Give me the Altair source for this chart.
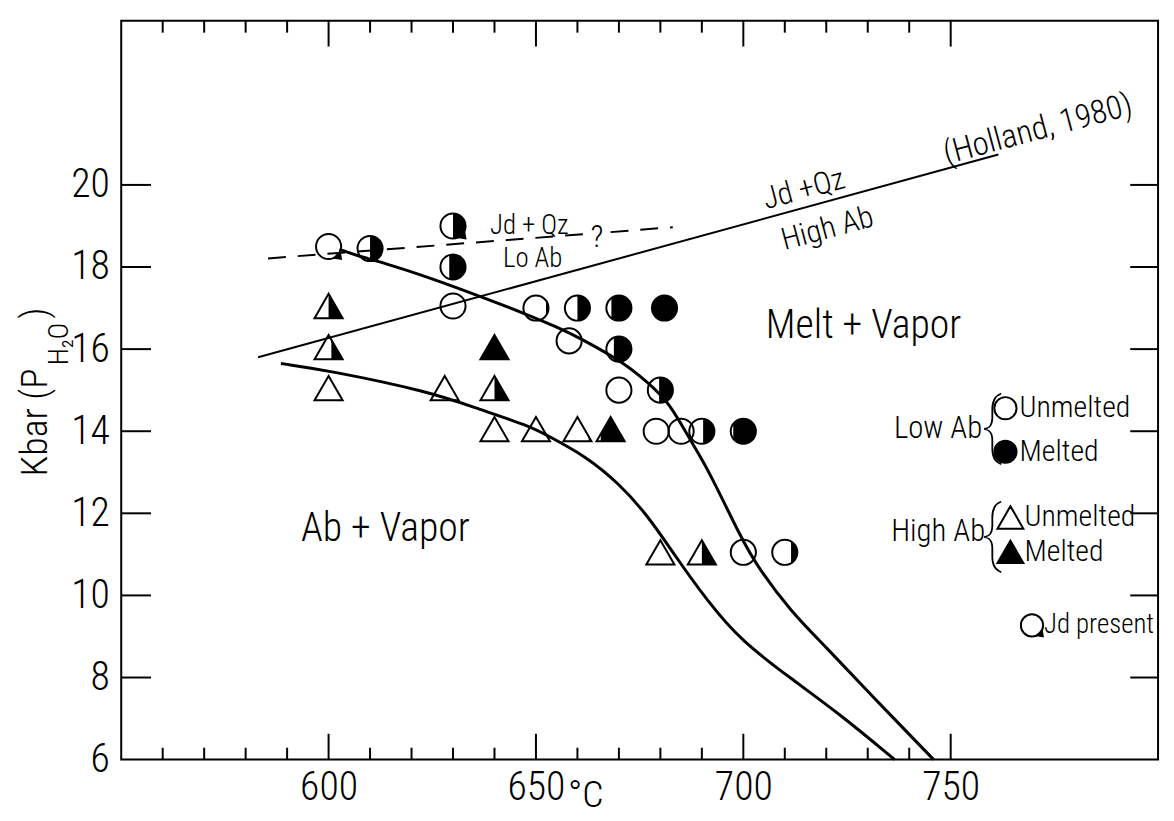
import math
import altair as alt
import pandas as pd

FONT = "Roboto Condensed, Liberation Sans Narrow, Arial Narrow, Liberation Sans, sans-serif"
WEIGHT = 300

# ---------------- data ----------------
# Low albite runs (circles): T (deg C), P (kbar), melted fraction, jadeite present
low_T = [600, 610, 630, 630, 630, 650, 660, 670, 681, 658, 670, 670, 680, 679, 685, 690, 700, 700, 710]
low_P = [18.5, 18.45, 19.0, 18.0, 17.05, 17.0, 17.0, 17.0, 17.0, 16.2, 16.0, 15.0, 15.0, 14.0, 14.0, 14.0, 14.0, 11.05, 11.05]
low_melt = [0, 0.5, 0.5, 0.65, 0, 0.1, 0.5, 0.8, 1, 0, 0.7, 0, 0.55, 0, 0, 0.45, 0.9, 0, 0.25]
low_jd = [True, False, True, False, False, False, False, False, False, False,
          False, False, False, False, False, False, False, False, False]

# High albite runs (triangles)
high_T = [600, 600, 600, 628, 640, 640, 640, 650, 660, 668, 680, 690]
high_P = [17.05, 16.05, 15.05, 15.05, 15.05, 16.05, 14.05, 14.05, 14.05, 14.05, 11.05, 11.05]
high_melt = [0.5, 0.4, 0, 0, 0.5, 1, 0, 0, 0.1, 0.85, 0, 0.5]

# Low-albite melting curve
upper_T = [602.6, 607, 613.4, 625, 637.2, 646.9, 655.5, 661, 671.5, 676.3, 681.8, 687.6, 691.4, 699.6, 703.3, 711.5, 719.5, 731.5, 745.9]
upper_P = [18.43, 18.27, 18.1, 17.72, 17.26, 16.88, 16.52, 16.25, 15.65, 15.24, 14.76, 13.71, 13.1, 11.37, 10.72, 9.6, 8.79, 7.5, 6.0]

# High-albite melting curve
lower_T = [588.5, 600, 624.5, 635.6, 648.4, 653.2, 662, 669.9, 677.1, 683.5, 691.5, 699.4, 711.4, 723.4, 736.5]
lower_P = [15.65, 15.48, 14.96, 14.56, 14.13, 13.87, 13.39, 12.74, 11.93, 10.97, 9.84, 8.9, 7.98, 7.1, 6.0]

# Jd + Qz = High Ab (Holland, 1980)
holland_T = [583, 761.5]
holland_P = [15.8, 20.74]

# Jd + Qz = Lo Ab (dashed, with a gap for "?")
dash_T = [585.4, 661.5, 668.0, 683.0]
dash_P = [18.21, 18.8, 18.85, 18.97]
dash_seg = ["a", "a", "b", "b"]

# legend symbols
leg_T = [763.2, 763.2, 764.4, 764.4, 769.6]
leg_P = [14.56, 13.5, 11.9, 11.06, 9.27]
leg_kind = ["circle", "circle", "triangle", "triangle", "circle"]
leg_melt = [0, 1, 0, 1, 0]
leg_jd = [False, False, False, False, True]

# axis ticks
x_minor = [560, 570, 580, 590, 610, 620, 630, 640, 660, 670, 680, 690, 710, 720, 730, 740]
x_major = [600, 650, 700, 750]
y_ticks = [8, 10, 12, 14, 16, 18, 20]
y_labels = [6, 8, 10, 12, 14, 16, 18, 20]

W, H = 1044, 744

# ---------------- symbol geometry ----------------
H3 = math.sqrt(3) / 2


def circle_fill(f, n=32):
    a0 = math.pi if f >= 0.999 else math.acos(1 - 2 * f)
    pts = []
    for i in range(n + 1):
        a = -a0 + 2 * a0 * i / n
        pts.append((math.cos(a), math.sin(a)))
    return "M" + " L".join(f"{x:.3f},{y:.3f}" for x, y in pts) + " Z"


def tri_fill(f):
    if f >= 0.999:
        pts = [(0, -H3), (1, H3), (-1, H3)]
    else:
        c = 1 - 2 * f
        if c >= 0:
            pts = [(c, -H3 + 2 * H3 * c), (1, H3), (c, H3)]
        else:
            pts = [(c, -H3 - 2 * H3 * c), (0, -H3), (1, H3), (c, H3)]
    return "M" + " L".join(f"{x:.3f},{y:.3f}" for x, y in pts) + " Z"


JD_TAIL = "M0.30,0.95 L1.08,1.08 L0.95,0.30 Z"

rows = []
for t, p, m, jd in zip(low_T, low_P, low_melt, low_jd):
    rows.append(dict(T=t, P=p, kind="circle", melt=m, jd=jd, sz=640))
for t, p, m in zip(high_T, high_P, high_melt):
    rows.append(dict(T=t, P=p, kind="triangle", melt=m, jd=False, sz=800))
for t, p, k, m, jd in zip(leg_T, leg_P, leg_kind, leg_melt, leg_jd):
    rows.append(dict(T=t, P=p, kind=k, melt=m, jd=jd, sz=500 if k == "circle" else 680))
sym = pd.DataFrame(rows)
sym["outline"] = sym["kind"].map({"circle": "circle", "triangle": "triangle-up"})
fills = sym[sym["melt"] > 0].copy()
fills["path"] = [circle_fill(m) if k == "circle" else tri_fill(m) for k, m in zip(fills["kind"], fills["melt"])]
tails = sym[sym["jd"]].copy()
tails["path"] = JD_TAIL

# ---------------- scales / axes ----------------
xs = alt.Scale(domain=[550, 800], nice=False, zero=False)
ys = alt.Scale(domain=[6, 24], nice=False, zero=False)
xaxis = alt.Axis(values=x_major, title=None, ticks=False, tickSize=0, domain=False, grid=False,
                 labelFont=FONT, labelFontSize=40, labelFontWeight=WEIGHT, labelColor="black", labelPadding=8)
yaxis = alt.Axis(values=y_labels, title=None, ticks=False, tickSize=0, domain=False, grid=False,
                 labelFont=FONT, labelFontSize=40, labelFontWeight=WEIGHT, labelColor="black", labelPadding=12)
X = alt.X("T:Q", scale=xs, axis=xaxis)
Y = alt.Y("P:Q", scale=ys, axis=yaxis)

# ---------------- tick marks ----------------
dmin = pd.DataFrame({"T": x_minor})
dmaj = pd.DataFrame({"T": x_major})
dy = pd.DataFrame({"P": y_ticks})
rule = dict(color="black", strokeWidth=2)
ticks = [
    alt.Chart(dmin).mark_rule(**rule).encode(x=X, y=alt.value(H), y2=alt.value(H - 12)),
    alt.Chart(dmaj).mark_rule(**rule).encode(x=X, y=alt.value(H), y2=alt.value(H - 26)),
    alt.Chart(dmin).mark_rule(**rule).encode(x=X, y=alt.value(0), y2=alt.value(12)),
    alt.Chart(dmaj).mark_rule(**rule).encode(x=X, y=alt.value(0), y2=alt.value(26)),
    alt.Chart(dy).mark_rule(**rule).encode(y=Y, x=alt.value(0), x2=alt.value(30)),
    alt.Chart(dy).mark_rule(**rule).encode(y=Y, x=alt.value(W), x2=alt.value(W - 28)),
]

# ---------------- curves ----------------
upper = alt.Chart(pd.DataFrame({"T": upper_T, "P": upper_P})).mark_line(
    color="black", strokeWidth=3, interpolate="basis").encode(x=X, y=Y)
lower = alt.Chart(pd.DataFrame({"T": lower_T, "P": lower_P})).mark_line(
    color="black", strokeWidth=3, interpolate="basis").encode(x=X, y=Y)
holland = alt.Chart(pd.DataFrame({"T": holland_T, "P": holland_P})).mark_line(
    color="black", strokeWidth=2).encode(x=X, y=Y)
dashed = alt.Chart(pd.DataFrame({"T": dash_T, "P": dash_P, "seg": dash_seg})).mark_line(
    color="black", strokeWidth=2, strokeDash=[18, 12]).encode(x=X, y=Y, detail="seg:N")

# ---------------- symbols ----------------
fill_layer = alt.Chart(fills).mark_point(filled=True, color="black", opacity=1, strokeWidth=0).encode(
    x=X, y=Y, shape=alt.Shape("path:N", scale=None), size=alt.Size("sz:Q", scale=None))
tail_layer = alt.Chart(tails).mark_point(filled=True, color="black", opacity=1, strokeWidth=0).encode(
    x=X, y=Y, shape=alt.Shape("path:N", scale=None), size=alt.Size("sz:Q", scale=None))
outline_layer = alt.Chart(sym).mark_point(filled=False, color="black", opacity=1, strokeWidth=2).encode(
    x=X, y=Y, shape=alt.Shape("outline:N", scale=None), size=alt.Size("sz:Q", scale=None))


# ---------------- texts ----------------
def texts(labels, ts, ps, size, align="center", angle=0, weight=WEIGHT):
    df = pd.DataFrame({"T": ts, "P": ps, "label": labels})
    kw = dict(font=FONT, fontSize=size, fontWeight=weight, color="black", align=align, baseline="middle")
    if angle:
        kw["angle"] = angle
    return alt.Chart(df).mark_text(**kw).encode(x=X, y=Y, text="label:N")


region_txt = texts(["Ab + Vapor", "Melt + Vapor"], [613.7, 729.0], [11.61, 16.57], 40)
lo_txt = texts(["Jd + Qz", "Lo  Ab"], [648.4, 649.2], [18.99, 18.19], 27)
q_txt = texts(["?"], [664.7], [18.72], 32)
hi_txt = texts(["Jd +Qz", "High Ab"], [714.6, 720.3], [19.88, 18.92], 31, angle=345)
holland_txt = texts(["(Holland, 1980)"], [771.0], [21.35], 33, angle=345)
leg_groups = texts(["Low  Ab", "High Ab"], [757.6, 758.3], [14.05, 11.54], 31, align="right")
leg_items = texts(["Unmelted", "Melted", "Unmelted", "Melted"],
                  [766.6, 766.6, 767.8, 767.8], [14.56, 13.5, 11.9, 11.06], 30, align="left")
jd_txt = texts(["Jd present"], [772.5], [9.27], 27, align="left")
braces = texts(["{", "{"], [759.9, 759.9], [14.09, 11.47], 72, weight=100)
deg_txt = alt.Chart(pd.DataFrame({"T": [662.0], "label": ["°C"]})).mark_text(
    font=FONT, fontSize=38, fontWeight=WEIGHT, color="black", align="center", baseline="middle").encode(
    x=X, y=alt.value(H + 37), text="label:N")

# y-axis title: Kbar (P_H2O)
ytitle = [
    alt.Chart(pd.DataFrame({"label": ["Kbar (P"]})).mark_text(
        font=FONT, fontSize=38, fontWeight=WEIGHT, color="black", angle=270, align="right", baseline="middle").encode(
        x=alt.value(-86), y=alt.value(350), text="label:N"),
    alt.Chart(pd.DataFrame({"label": ["H₂O"]})).mark_text(
        font=FONT, fontSize=28, fontWeight=WEIGHT, color="black", angle=270, align="left", baseline="middle").encode(
        x=alt.value(-62), y=alt.value(347), text="label:N"),
    alt.Chart(pd.DataFrame({"label": [")"]})).mark_text(
        font=FONT, fontSize=38, fontWeight=WEIGHT, color="black", angle=270, align="left", baseline="middle").encode(
        x=alt.value(-86), y=alt.value(300), text="label:N"),
]

chart = alt.layer(
    *ticks, holland, dashed, upper, lower,
    fill_layer, tail_layer, outline_layer,
    region_txt, lo_txt, q_txt, hi_txt, holland_txt, leg_groups, leg_items, jd_txt, braces, deg_txt, *ytitle,
).properties(
    width=W, height=H,
    padding={"left": 114, "top": 10, "right": 8, "bottom": 59},
    autosize=alt.AutoSizeParams(type="none"),
    background="white",
).configure_view(stroke="black", strokeWidth=2)

chart.save("out.html", embed_options={"renderer": "svg", "actions": False})
